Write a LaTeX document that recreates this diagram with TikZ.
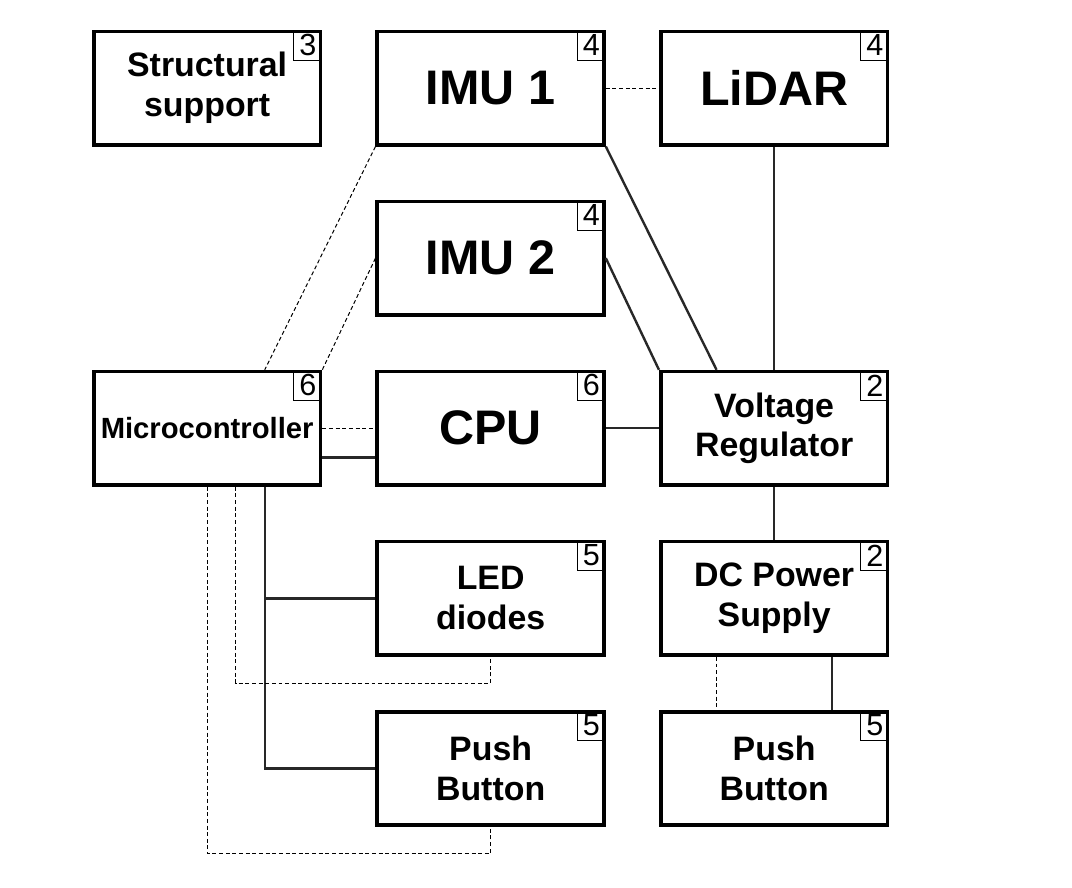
\documentclass[tikz,border=0pt]{standalone}
\usepackage{fontspec}
\setmainfont{Liberation Sans}
\usetikzlibrary{calc, positioning}
\definecolor{wiregray}{RGB}{40, 40, 40}
\tikzset{
  unit/.style={draw=black, line width=2.7pt, minimum width=6cm, minimum height=3cm, align=center, font=\fontsize{25.5}{30}\selectfont\bfseries},
  bigunit/.style={unit, font=\fontsize{36.5}{40}\selectfont\bfseries},
  tag/.style={draw=black, line width=0.8pt, anchor=north east, minimum width=0.74cm, minimum height=0.8cm, inner sep=0pt, font=\fontsize{23}{23}\selectfont},
  power/.style={draw=wiregray, line width=1.8pt},
  signal/.style={draw=black, line width=0.75pt, dash pattern=on 3pt off 2pt}
}

\begin{document}
\begin{tikzpicture}
  \fill[white] (-5.48, 2.33) rectangle (22.88, -21.16);
  \useasboundingbox (-5.48, 2.33) rectangle (22.88, -21.16);

  % top row
  \node[unit] (sup) at (0, 0) {Structural\\support};
  \node[bigunit] (imua) at (7.5, 0) {IMU 1};
  \node[bigunit] (lidar) at (15, 0) {LiDAR};

  % second row
  \node[bigunit] (imub) at (7.5, -4.5) {IMU 2};

  % middle row
  \node[unit, font=\fontsize{22}{26}\selectfont\bfseries] (mcu) at (0, -9) {Microcontroller};
  \node[bigunit] (cpu) at (7.5, -9) {CPU};
  \node[unit] (vreg) at (15, -9) {Voltage\\Regulator};

  % lower rows
  \node[unit] (led) at (7.5, -13.5) {LED\\diodes};
  \node[unit] (dcps) at (15, -13.5) {DC Power\\Supply};
  \node[unit] (pbl) at (7.5, -18) {Push\\Button};
  \node[unit] (pbr) at (15, -18) {Push\\Button};

  % corner numbers
  \node[tag] at (sup.north east) {3};
  \node[tag] at (imua.north east) {4};
  \node[tag] at (lidar.north east) {4};
  \node[tag] at (imub.north east) {4};
  \node[tag] at (mcu.north east) {6};
  \node[tag] at (cpu.north east) {6};
  \node[tag] at (vreg.north east) {2};
  \node[tag] at (led.north east) {5};
  \node[tag] at (dcps.north east) {2};
  \node[tag] at (pbl.north east) {5};
  \node[tag] at (pbr.north east) {5};

  % power lines
  \draw[power] (imua.south east) -- ($(vreg.north west)!0.25!(vreg.north east)$);
  \draw[power] (imub.east) -- (vreg.north west);
  \draw[power] (lidar.south) -- (vreg.north);
  \draw[power] (cpu.east) -- (vreg.west);
  \draw[power] (vreg.south) -- (dcps.north);
  \draw[power] ($(mcu.north east)!0.75!(mcu.south east)$) -- ($(cpu.north west)!0.75!(cpu.south west)$);
  \coordinate (mcu-s) at ($(mcu.south west)!0.75!(mcu.south east)$);
  \draw[power] (mcu-s) |- (pbl.west);
  \draw[power] (mcu-s |- led.west) -- (led.west);
  \draw[power] ($(dcps.south west)!0.75!(dcps.south east)$) -- ($(pbr.north west)!0.75!(pbr.north east)$);

  % signal lines
  \draw[signal] (imua.east) -- (lidar.west);
  \draw[signal] (imua.south west) -- ($(mcu.north west)!0.75!(mcu.north east)$);
  \draw[signal] (imub.west) -- (mcu.north east);
  \draw[signal] (mcu.east) -- (cpu.west);
  \draw[signal] ($(mcu.south west)!0.625!(mcu.south east)$) |- ($(led.south)+(0,-0.7)$) -- (led.south);
  \draw[signal] (mcu.south) |- ($(pbl.south)+(0,-0.7)$) -- (pbl.south);
  \draw[signal] ($(dcps.south west)!0.25!(dcps.south east)$) -- ($(pbr.north west)!0.25!(pbr.north east)$);
\end{tikzpicture}
\end{document}
